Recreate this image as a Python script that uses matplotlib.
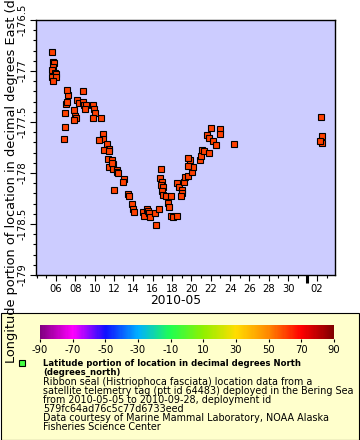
import numpy as np
import pandas as pd
import matplotlib
matplotlib.use("Agg")
import matplotlib.pyplot as plt
import matplotlib.dates as mdates
from matplotlib.colors import LinearSegmentedColormap, Normalize
from matplotlib.patches import Rectangle
import matplotlib.colorbar as mcolorbar

plt.rcParams['font.family'] = ['DejaVu Sans']
plt.rcParams['axes.unicode_minus'] = False

# ---- data: day of May 2010 (fractional; >31 = June) and longitude ----
day_of_may = [5.55, 5.66, 5.79, 5.72, 5.62, 5.89, 6.00, 5.55, 5.97, 5.66,
              6.83, 6.93, 6.93, 7.03, 7.14, 7.21, 7.11, 7.86, 7.93, 8.07,
              7.86, 8.20, 8.38, 8.79, 8.82, 8.92, 9.07, 8.99, 9.79, 9.96,
              10.03, 9.79, 10.62, 10.83, 10.83, 10.48, 11.30, 11.45, 10.99, 11.48,
              11.41, 11.76, 11.51, 11.92, 11.86, 11.76, 12.27, 12.34, 12.38, 12.00,
              13.03, 12.90, 13.44, 13.55, 13.83, 13.93, 14.03, 15.03, 15.13, 15.41,
              15.54, 15.65, 15.72, 16.31, 16.27, 16.65, 16.86, 16.72, 16.93, 16.86,
              17.03, 16.99, 17.09, 17.37, 17.89, 17.55, 17.68, 17.94, 18.10, 18.48,
              18.54, 18.72, 19.00, 19.00, 18.93, 19.24, 19.34, 19.68, 20.03, 20.13,
              19.68, 19.86, 19.68, 20.89, 20.99, 21.06, 21.30, 21.82, 21.64, 21.82,
              22.20, 22.54, 22.03, 22.93, 22.93, 24.41, 33.40, 33.51, 33.51, 33.30]
longitude = [-176.81, -176.91, -176.92, -176.96, -176.99, -177.02, -177.03, -177.06, -177.06, -177.10,
             -177.67, -177.55, -177.41, -177.32, -177.30, -177.24, -177.19, -177.38, -177.44, -177.46,
             -177.48, -177.28, -177.31, -177.20, -177.30, -177.33, -177.33, -177.37, -177.33, -177.37,
             -177.41, -177.46, -177.46, -177.62, -177.67, -177.68, -177.72, -177.76, -177.77, -177.78,
             -177.86, -177.87, -177.94, -177.91, -177.96, -177.90, -177.97, -177.99, -178.00, -178.17,
             -178.06, -178.09, -178.21, -178.23, -178.30, -178.35, -178.38, -178.38, -178.42, -178.35,
             -178.37, -178.39, -178.43, -178.51, -178.39, -178.35, -177.96, -178.05, -178.09, -178.12,
             -178.14, -178.18, -178.22, -178.23, -178.23, -178.29, -178.33, -178.42, -178.43, -178.42,
             -178.10, -178.14, -178.17, -178.20, -178.23, -178.09, -178.04, -178.03, -177.99, -177.94,
             -177.93, -177.87, -177.85, -177.87, -177.83, -177.77, -177.78, -177.80, -177.63, -177.66,
             -177.69, -177.73, -177.56, -177.57, -177.62, -177.72, -177.45, -177.64, -177.71, -177.69]

x_tick_days = [6, 8, 10, 12, 14, 16, 18, 20, 22, 24, 26, 28, 30, 33]
y_ticks = [-179, -178.5, -178, -177.5, -177, -176.5]
cbar_ticks = [-90, -70, -50, -30, -10, 10, 30, 50, 70, 90]
cbar_colors = ['#800080', '#ff00ff', '#1010ff', '#00b0ff', '#20ff50',
               '#90f000', '#ffdd00', '#ff8800', '#ff0000', '#800000']

base = pd.Timestamp('2010-05-01')
def to_dt(d):
    return base + pd.to_timedelta(np.asarray(d, dtype=float) - 1, unit='D')

times = to_dt(day_of_may)

W, H = 360, 440
fig = plt.figure(figsize=(W / 100, H / 100), dpi=100)
fig.patch.set_facecolor('white')

# legend box (behind everything)
fig.patches.append(Rectangle((0.5 / W, 1 - 439.5 / H), 358 / W, 127 / H,
                             transform=fig.transFigure, facecolor='#ffffcc',
                             edgecolor='black', linewidth=0.8, zorder=-10))

ax = fig.add_axes([36 / W, 1 - 275 / H, 299 / W, 255 / H])
ax.set_facecolor('#ccccff')
ax.plot(times, longitude, linestyle='none', marker='s', markersize=4.2,
        markerfacecolor='#ff4000', markeredgecolor='black', markeredgewidth=0.8)

ax.set_xlim(to_dt(3.93), to_dt(34.85))
ax.set_ylim(-179, -176.5)

ax.xaxis.set_major_locator(matplotlib.ticker.FixedLocator(mdates.date2num(to_dt(x_tick_days))))
ax.xaxis.set_major_formatter(mdates.DateFormatter('%d'))
ax.xaxis.set_minor_locator(mdates.DayLocator())
ax.set_yticks(y_ticks)
ax.set_yticklabels([('%g' % v) for v in y_ticks], rotation=90, va='center')
ax.yaxis.set_minor_locator(matplotlib.ticker.MultipleLocator(0.1))

ax.tick_params(axis='both', which='major', length=4.3, width=0.8, labelsize=7.2, pad=1.5, direction='out')
ax.tick_params(axis='both', which='minor', length=2.2, width=0.8, direction='out')
ax.tick_params(axis='x', which='major', pad=2.5)
for s in ax.spines.values():
    s.set_linewidth(1.0)

# month boundary marker (June 1)
ax.plot([mdates.date2num(pd.Timestamp('2010-06-01'))] * 2, [0, -0.03],
        transform=ax.get_xaxis_transform(), color='black', linewidth=2.2,
        clip_on=False, solid_capstyle='butt')

fig.text(176 / W, 1 - 300 / H, '2010-05', ha='center', va='center', fontsize=8.8)
fig.text(12 / W, 1 - 363 / H, 'Longitude portion of location in decimal degrees East (degrees_east)',
         rotation=90, ha='center', va='bottom', fontsize=9.3, zorder=5)

# colorbar
cmap = LinearSegmentedColormap.from_list(
    'erddap_rainbow', list(zip(np.linspace(0, 1, len(cbar_colors)), cbar_colors)))
cax = fig.add_axes([40 / W, 1 - 339 / H, 294 / W, 14 / H])
cb = mcolorbar.ColorbarBase(cax, cmap=cmap, norm=Normalize(-90, 90), orientation='horizontal')
cb.set_ticks(cbar_ticks)
cb.set_ticklabels([str(t) for t in cbar_ticks])
cb.outline.set_visible(False)
cax.tick_params(labelsize=7.2, length=2.5, width=0.8, pad=1.5)

# legend entry
fig.lines.append(matplotlib.lines.Line2D([22 / W], [1 - 363 / H], transform=fig.transFigure,
                                         marker='s', markersize=4.2, markerfacecolor='#44ff44',
                                         markeredgecolor='black', markeredgewidth=0.8,
                                         linestyle='none'))
lines = [
    ('Latitude portion of location in decimal degrees North', 'bold', 363.3),
    ('(degrees_north)', 'bold', 372.0),
    ('Ribbon seal (Histriophoca fasciata) location data from a', 'normal', 381.5),
    ('satellite telemetry tag (ptt id 64483) deployed in the Bering Sea', 'normal', 390.7),
    ('from 2010-05-05 to 2010-09-28, deployment id', 'normal', 399.9),
    ('579fc64ad76c5c77d6733eed', 'normal', 409.0),
    ('Data courtesy of Marine Mammal Laboratory, NOAA Alaska', 'normal', 418.2),
    ('Fisheries Science Center', 'normal', 427.3),
]
for txt, wt, y in lines:
    fig.text(43 / W, 1 - y / H, txt, ha='left', va='center',
             fontsize=6.1 if wt == 'bold' else 6.9, fontweight=wt)

fig.savefig('out.png', dpi=100)
